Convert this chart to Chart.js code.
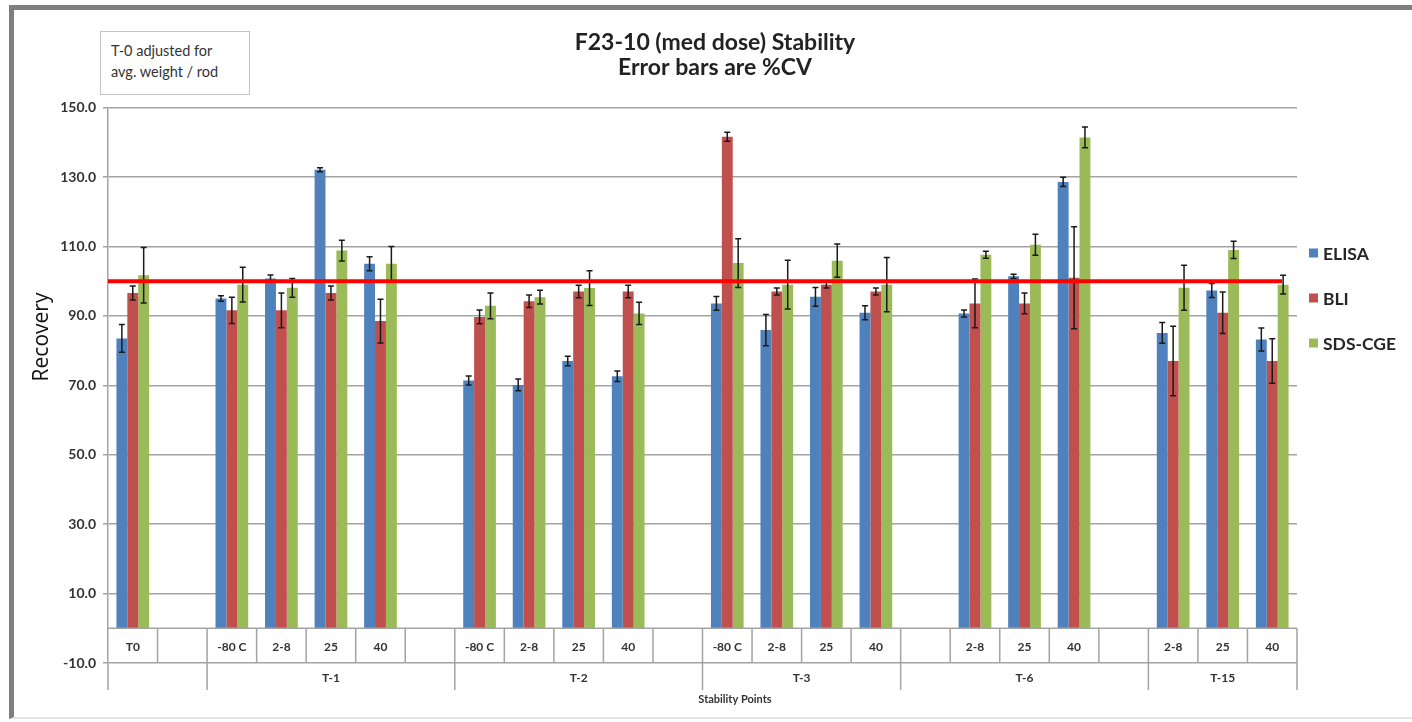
<!DOCTYPE html>
<html lang="en">
<head>
    <meta charset="UTF-8">
    <title>F23-10 (med dose) Stability</title>
    <script src="https://cdn.jsdelivr.net/npm/chart.js"></script>
    <style>
        html, body {
            margin: 0;
            padding: 0;
            background: #fff;
        }

        .wrap {
            position: relative;
            width: 1412px;
            height: 722px;
        }

        /* grey frame round the pasted chart */
        .frame {
            position: absolute;
            left: 9px;
            top: 5px;
            width: 1403px;
            height: 714px;
            box-sizing: border-box;
            border-top: 5px solid #7f7f7f;
            border-left: 5px solid #7f7f7f;
            border-bottom: 2px solid #e4e4e4;
            pointer-events: none;
        }

        .note {
            position: absolute;
            left: 100px;
            top: 31px;
            width: 150px;
            height: 64px;
            box-sizing: border-box;
            border: 1px solid #c4c4c4;
            padding: 8px 0 0 10px;
            font: 14.5px Lato, "Open Sans", sans-serif;
            line-height: 21px;
            color: #333;
            background: #fff;
        }
    </style>
</head>
<body>
    <div class="wrap">
        <canvas id="stability" width="1412" height="722"></canvas>
        <div class="frame"></div>
        <div class="note">T-0 adjusted for<br>avg. weight / rod</div>
    </div>

    <script>
        // categories: conditions (first row) and time points (second row)
        const subLabels = ['T0', '',
            '-80 C', '2-8', '25', '40', '',
            '-80 C', '2-8', '25', '40', '',
            '-80 C', '2-8', '25', '40',
            '', '2-8', '25', '40', '',
            '2-8', '25', '40'];
        const groupLabels = ['', 'T-1', 'T-2', 'T-3', 'T-6', 'T-15'];
        const groupSizes = [2, 5, 5, 4, 5, 3];

        // recovery values and %CV error bars
        const elisa   = [83.5, null, 95.0, 100.8, 132.1, 105.0, null, 71.4, 70.1, 77.0, 72.6, null, 93.6, 85.9, 95.5, 90.9, null, 90.7, 101.4, 128.6, null, 85.1, 97.3, 83.2];
        const elisaCv = [4.0, null, 0.8, 1.0, 0.6, 2.0, null, 1.3, 1.7, 1.4, 1.5, null, 2.0, 4.5, 2.7, 2.0, null, 1.0, 0.6, 1.3, null, 3.0, 2.0, 3.3];
        const bli     = [96.6, null, 91.6, 91.6, 96.6, 88.5, null, 89.7, 94.2, 97.0, 97.0, null, 141.6, 97.0, 99.0, 97.0, null, 93.6, 93.6, 101.0, null, 77.0, 90.9, 77.0];
        const bliCv   = [2.0, null, 3.8, 5.0, 2.0, 6.3, null, 2.0, 1.8, 1.8, 1.8, null, 1.3, 1.0, 1.0, 1.0, null, 7.0, 3.0, 14.7, null, 10.0, 6.0, 6.4];
        const sds     = [101.7, null, 99.0, 98.1, 108.8, 105.0, null, 92.9, 95.4, 98.0, 90.7, null, 105.2, 99.0, 105.9, 99.0, null, 107.6, 110.5, 141.4, null, 98.1, 109.0, 99.0];
        const sdsCv   = [8.0, null, 5.0, 2.7, 3.0, 5.0, null, 3.7, 2.0, 5.0, 3.2, null, 7.0, 7.0, 4.8, 7.8, null, 1.0, 3.0, 3.0, null, 6.5, 2.5, 2.7];

        const seriesNames = ['ELISA', 'BLI', 'SDS-CGE'];
        const seriesColors = ['#4f81bd', '#c0504d', '#9bbb59'];
        const targetRecovery = 100;

        const gridColor = '#a3a3a3';
        const textColor = '#333333';

        // error bars, table-style category axis, target line and legend
        const stabilityPlugin = {
            id: 'stabilityExtras',
            afterDatasetsDraw(chart) {
                const { ctx, scales: { y } } = chart;
                const errs = [elisaCv, bliCv, sdsCv];
                ctx.save();
                ctx.strokeStyle = '#1a1a1a';
                ctx.lineWidth = 1.5;
                chart.data.datasets.forEach((ds, di) => {
                    chart.getDatasetMeta(di).data.forEach((bar, i) => {
                        const v = ds.data[i];
                        const e = errs[di][i];
                        if (v === null || e === null) return;
                        const yt = y.getPixelForValue(v + e);
                        const yb = y.getPixelForValue(v - e);
                        ctx.beginPath();
                        ctx.moveTo(bar.x, yt); ctx.lineTo(bar.x, yb);
                        ctx.moveTo(bar.x - 3, yt); ctx.lineTo(bar.x + 3, yt);
                        ctx.moveTo(bar.x - 3, yb); ctx.lineTo(bar.x + 3, yb);
                        ctx.stroke();
                    });
                });
                ctx.restore();
            },
            afterDraw(chart) {
                const { ctx, chartArea, scales: { x, y } } = chart;
                const w = x.getPixelForValue(1) - x.getPixelForValue(0);
                const edge = i => x.getPixelForValue(i) - w / 2;
                const y0 = y.getPixelForValue(0);
                const y1 = y.getPixelForValue(-10);
                const y2 = y1 + 27;

                ctx.save();
                ctx.strokeStyle = gridColor;
                ctx.lineWidth = 1.5;
                ctx.beginPath();
                ctx.moveTo(chartArea.left, y0); ctx.lineTo(chartArea.right, y0);
                ctx.moveTo(chartArea.left, chartArea.bottom); ctx.lineTo(chartArea.left, y2);
                for (let i = 1; i <= subLabels.length; i++) {
                    ctx.moveTo(edge(i), y0); ctx.lineTo(edge(i), y1);
                }
                let start = 0;
                groupSizes.forEach(n => {
                    start += n;
                    ctx.moveTo(edge(start), y1); ctx.lineTo(edge(start), y2);
                });
                ctx.stroke();

                ctx.fillStyle = textColor;
                ctx.textAlign = 'center';
                ctx.textBaseline = 'middle';
                ctx.font = 'bold 12px Lato, sans-serif';
                subLabels.forEach((lab, i) => {
                    ctx.fillText(lab, x.getPixelForValue(i), (y0 + y1) / 2 + 1);
                });
                start = 0;
                groupSizes.forEach((n, g) => {
                    const mid = (edge(start) + edge(start + n)) / 2;
                    ctx.fillText(groupLabels[g], mid, (y1 + y2) / 2 + 2);
                    start += n;
                });
                ctx.font = 'bold 11px Lato, sans-serif';
                ctx.fillText('Stability Points', 735, y2 + 9);

                // target recovery line
                const yr = y.getPixelForValue(targetRecovery);
                ctx.strokeStyle = '#ff0000';
                ctx.lineWidth = 4;
                ctx.beginPath();
                ctx.moveTo(chartArea.left, yr);
                ctx.lineTo(chartArea.right - 15, yr);
                ctx.stroke();

                // axis title
                ctx.save();
                ctx.translate(42, 337);
                ctx.rotate(-Math.PI / 2);
                ctx.fillStyle = '#111';
                ctx.font = '21px "Open Sans", sans-serif';
                ctx.fillText('Recovery', 0, 0);
                ctx.restore();

                // legend
                ctx.textAlign = 'left';
                ctx.font = 'bold 17.5px Lato, sans-serif';
                chart.data.datasets.forEach((ds, di) => {
                    const ly = 253 + di * 45;
                    ctx.fillStyle = ds.backgroundColor;
                    ctx.fillRect(chartArea.right + 12, ly - 4.5, 9, 9);
                    ctx.fillStyle = '#262626';
                    ctx.fillText(ds.label, chartArea.right + 26, ly + 1);
                });
                ctx.restore();
            }
        };

        const ctx = document.getElementById('stability').getContext('2d');
        new Chart(ctx, {
            type: 'bar',
            data: {
                labels: subLabels,
                datasets: [
                    { label: seriesNames[0], data: elisa, backgroundColor: seriesColors[0] },
                    { label: seriesNames[1], data: bli, backgroundColor: seriesColors[1] },
                    { label: seriesNames[2], data: sds, backgroundColor: seriesColors[2] }
                ]
            },
            options: {
                responsive: false,
                animation: false,
                layout: { padding: { left: 18, right: 0, top: 0, bottom: 59 } },
                datasets: {
                    bar: { categoryPercentage: 0.66, barPercentage: 1.0 }
                },
                plugins: {
                    legend: { display: false },
                    tooltip: { enabled: false },
                    title: {
                        display: true,
                        text: ['F23-10 (med dose) Stability', 'Error bars are %CV'],
                        color: '#222',
                        font: { family: 'Lato', size: 23, weight: 'bold', lineHeight: 1.1 },
                        padding: { top: 30, bottom: 27 }
                    }
                },
                scales: {
                    x: { display: false, offset: true },
                    y: {
                        min: -10,
                        max: 150,
                        afterFit(scale) { scale.width = 90; },
                        ticks: {
                            stepSize: 20,
                            padding: 7,
                            color: textColor,
                            font: { family: 'Lato', size: 14, weight: 'bold' },
                            callback: v => v.toFixed(1)
                        },
                        grid: { color: gridColor, lineWidth: 1.5, tickLength: 5 },
                        border: { display: true, color: gridColor, width: 1.5 }
                    },
                    y2: {
                        position: 'right',
                        afterFit(scale) { scale.width = 115; },
                        ticks: { display: false },
                        grid: { display: false },
                        border: { display: false }
                    }
                }
            },
            plugins: [stabilityPlugin]
        });
    </script>
</body>
</html>
